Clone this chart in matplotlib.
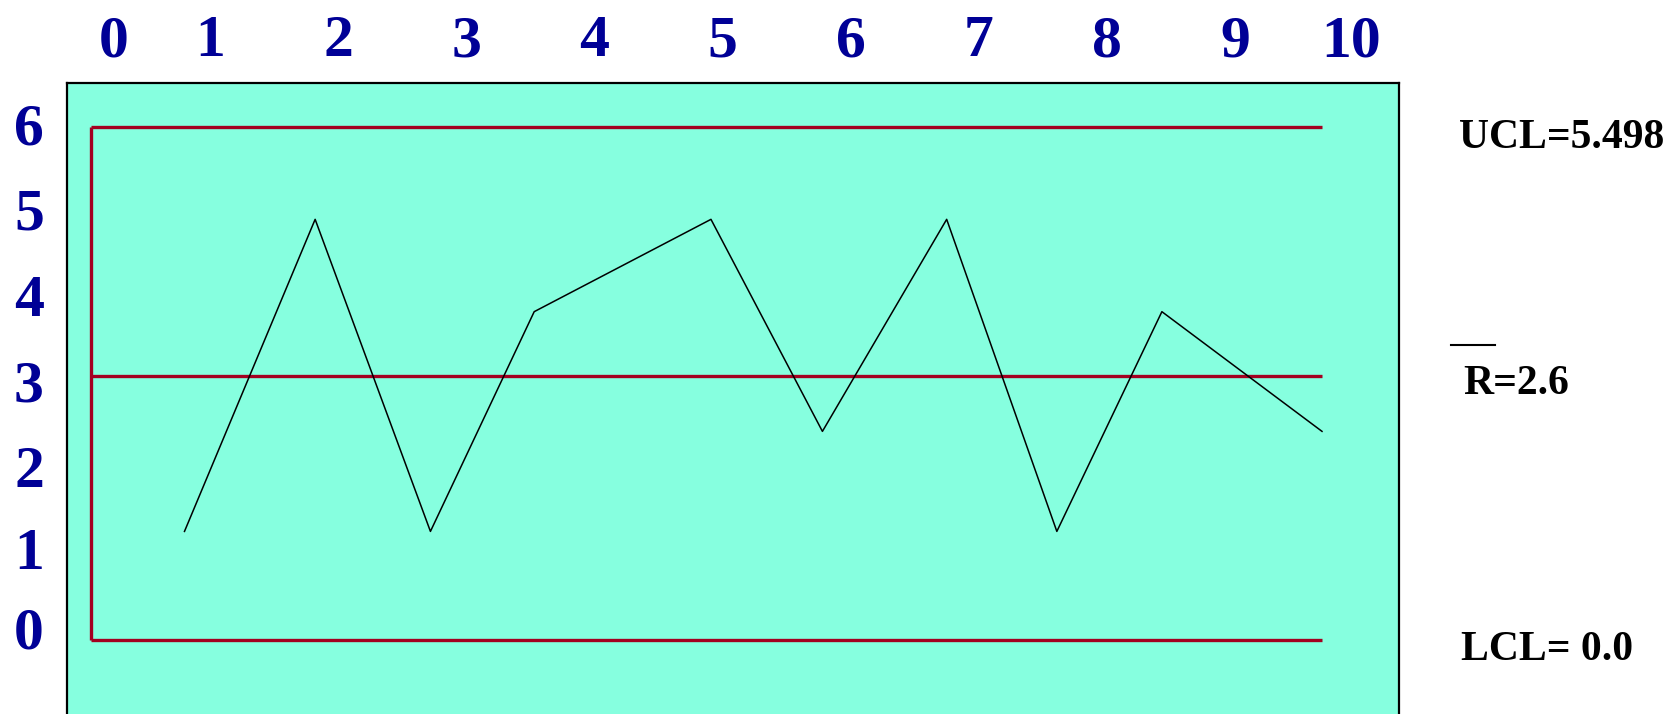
import matplotlib
matplotlib.use("Agg")
import matplotlib.pyplot as plt
from matplotlib.transforms import blended_transform_factory

# ---- data ----
sample_x = [0.80, 1.82, 2.72, 3.53, 4.91, 5.78, 6.75, 7.61, 8.43, 9.68]
range_vals = [1.27, 4.92, 1.27, 3.84, 4.92, 2.44, 4.92, 1.27, 3.84, 2.44]
ucl_level = 6.0
cl_level = 3.09
lcl_level = 0.0
line_start = 0.07
line_end = 9.68
top_labels = ["0", "1", "2", "3", "4", "5", "6", "7", "8", "9", "10"]
top_label_pos = [0.25, 1, 2, 3, 4, 5, 6, 7, 8, 9, 9.91]
left_labels = ["0", "1", "2", "3", "4", "5", "6"]
left_label_pos = [0.14, 1.07, 2.03, 3.03, 4.03, 5.04, 6.04]
ucl_text = "UCL=5.498"
cl_text = "R=2.6"
lcl_text = "LCL= 0.0"

W, H = 1675, 714
fig = plt.figure(figsize=(W / 100, H / 100), dpi=100)
ax_left, ax_right, ax_top = 67, 1399, 83
ax = fig.add_axes([ax_left / W, 0, (ax_right - ax_left) / W, (H - ax_top) / H])

# data->pixel: px = 82 + 128.1*x ; py = 640 - 85.5*y
ax.set_xlim((ax_left - 82) / 128.1, (ax_right - 82) / 128.1)
ax.set_ylim((640 - H) / 85.5, (640 - ax_top) / 85.5)
ax.set_facecolor("#86FFDF")
for s in ["left", "top", "right"]:
    ax.spines[s].set_linewidth(1.6)
    ax.spines[s].set_color("black")
ax.spines["bottom"].set_visible(False)
ax.set_xticks([])
ax.set_yticks([])

red = "#A30020"
ax.hlines([ucl_level, cl_level, lcl_level], line_start, line_end, color=red, lw=2.4, zorder=2)
ax.vlines(line_start, lcl_level, ucl_level, color=red, lw=2.4, zorder=2)
ax.plot(sample_x, range_vals, color="black", lw=1.1, zorder=3)

navy = "#000096"
font = "Liberation Serif"
# top labels
tx = ax.get_xaxis_transform()
for lab, p in zip(top_labels, top_label_pos):
    ax.text(p, (H - 56) / (H - ax_top), lab, transform=tx, ha="center", va="baseline",
            fontsize=43, fontweight="bold", family=font, color=navy, clip_on=False)
# left labels
ly = blended_transform_factory(fig.transFigure, ax.transData)
for lab, p in zip(left_labels, left_label_pos):
    ax.text(29 / W, p, lab, transform=ly, ha="center", va="center_baseline",
            fontsize=43, fontweight="bold", family=font, color=navy, clip_on=False)

# right annotations
fig.text(1459 / W, 1 - 134 / H, ucl_text, ha="left", va="center_baseline",
         fontsize=30, fontweight="bold", family=font, color="black")
fig.text(1463 / W, 1 - 379 / H, cl_text, ha="left", va="center_baseline",
         fontsize=30, fontweight="bold", family=font, color="black")
fig.lines.append(plt.Line2D([1451 / W, 1495 / W], [1 - 345 / H, 1 - 345 / H],
                            transform=fig.transFigure, color="black", lw=1.5))
fig.text(1461 / W, 1 - 646 / H, lcl_text, ha="left", va="center_baseline",
         fontsize=30, fontweight="bold", family=font, color="black")

fig.savefig("out.png", dpi=100)
